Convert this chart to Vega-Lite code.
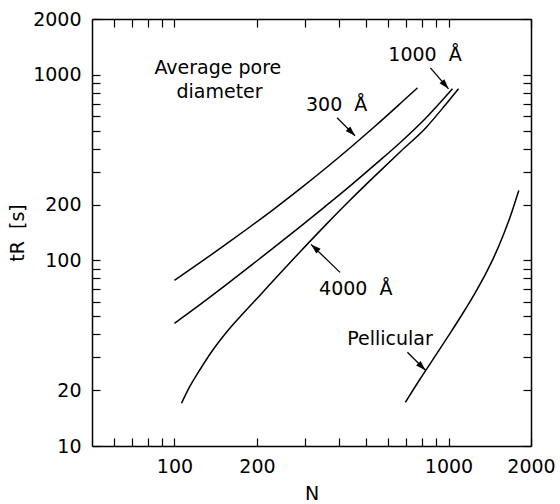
{
  "$schema": "https://vega.github.io/schema/vega-lite/v6.json",
  "width": 439,
  "height": 427,
  "autosize": {"type": "none"},
  "padding": {"left": 92, "top": 19, "right": 29, "bottom": 58},
  "background": "white",
  "config": {
    "view": {"stroke": null},
    "axis": {
      "labelFont": "DejaVu Sans",
      "labelFontSize": 19,
      "labelColor": "black",
      "titleFont": "DejaVu Sans",
      "titleFontSize": 19,
      "titleFontWeight": "normal",
      "titleColor": "black",
      "domainColor": "black",
      "domainWidth": 1.5,
      "tickColor": "black",
      "tickWidth": 1.2,
      "tickSize": -8,
      "ticks": true,
      "grid": false,
      "labelFlush": false,
      "labelOverlap": false,
      "labelBound": false
    },
    "text": {"font": "DejaVu Sans", "fontSize": 19, "color": "black"}
  },
  "datasets": {
    "curves": [
      {"series": "300", "N": 100, "t": 78.1},
      {"series": "300", "N": 123.5, "t": 96.9},
      {"series": "300", "N": 152.5, "t": 120.8},
      {"series": "300", "N": 188.3, "t": 151.4},
      {"series": "300", "N": 232.5, "t": 191},
      {"series": "300", "N": 287, "t": 243},
      {"series": "300", "N": 354.3, "t": 312},
      {"series": "300", "N": 437.7, "t": 405},
      {"series": "300", "N": 540.3, "t": 530},
      {"series": "300", "N": 666.9, "t": 701},
      {"series": "300", "N": 770, "t": 851},
      {"series": "1000", "N": 100, "t": 45.85},
      {"series": "1000", "N": 123.5, "t": 57.6},
      {"series": "1000", "N": 152.5, "t": 72.9},
      {"series": "1000", "N": 188.3, "t": 92.8},
      {"series": "1000", "N": 232.5, "t": 118.6},
      {"series": "1000", "N": 287, "t": 151.8},
      {"series": "1000", "N": 354.3, "t": 195.1},
      {"series": "1000", "N": 437.7, "t": 252.2},
      {"series": "1000", "N": 540.3, "t": 329.2},
      {"series": "1000", "N": 666.9, "t": 432.4},
      {"series": "1000", "N": 823.7, "t": 582},
      {"series": "1000", "N": 1034, "t": 841},
      {"series": "4000", "N": 106.1, "t": 17.0},
      {"series": "4000", "N": 113.5, "t": 20.8},
      {"series": "4000", "N": 123.5, "t": 25.6},
      {"series": "4000", "N": 137.8, "t": 32.8},
      {"series": "4000", "N": 156.4, "t": 41.8},
      {"series": "4000", "N": 177.5, "t": 51.6},
      {"series": "4000", "N": 204.8, "t": 64.8},
      {"series": "4000", "N": 242.5, "t": 85.1},
      {"series": "4000", "N": 287, "t": 111.1},
      {"series": "4000", "N": 354.3, "t": 154},
      {"series": "4000", "N": 437.7, "t": 211.5},
      {"series": "4000", "N": 540.3, "t": 286.4},
      {"series": "4000", "N": 666.9, "t": 385.5},
      {"series": "4000", "N": 823.7, "t": 515.8},
      {"series": "4000", "N": 975, "t": 690},
      {"series": "4000", "N": 1088, "t": 841},
      {"series": "Pellicular", "N": 696, "t": 17.2},
      {"series": "Pellicular", "N": 789.7, "t": 23.1},
      {"series": "Pellicular", "N": 896.2, "t": 30.7},
      {"series": "Pellicular", "N": 1017, "t": 40.8},
      {"series": "Pellicular", "N": 1125, "t": 51.6},
      {"series": "Pellicular", "N": 1245, "t": 66.1},
      {"series": "Pellicular", "N": 1366, "t": 84.6},
      {"series": "Pellicular", "N": 1474, "t": 106.4},
      {"series": "Pellicular", "N": 1577, "t": 134.6},
      {"series": "Pellicular", "N": 1673, "t": 169.3},
      {"series": "Pellicular", "N": 1745, "t": 203.8},
      {"series": "Pellicular", "N": 1805, "t": 237.9}
    ],
    "arrows": [
      {"arrow": "300", "N1": 392, "t1": 587, "N2": 456, "t2": 470},
      {"arrow": "1000", "N1": 859, "t1": 1090, "N2": 1000, "t2": 841},
      {"arrow": "4000", "N1": 402, "t1": 86.2, "N2": 315, "t2": 122},
      {"arrow": "Pellicular", "N1": 708, "t1": 32, "N2": 824, "t2": 25.6}
    ],
    "labels": [
      {"label": "Average pore", "N": 84.5, "t": 1012},
      {"label": "diameter", "N": 101.7, "t": 752},
      {"label": "300\u00a0\u00a0Å", "N": 302, "t": 640},
      {"label": "1000\u00a0\u00a0Å", "N": 603, "t": 1189},
      {"label": "4000\u00a0\u00a0Å", "N": 337, "t": 64.8},
      {"label": "Pellicular", "N": 427, "t": 34.9}
    ]
  },
  "resolve": {"axis": {"x": "independent", "y": "independent"}},
  "layer": [
    {
      "data": {"name": "curves"},
      "mark": {"type": "line", "color": "black", "strokeWidth": 1.5, "interpolate": "monotone"},
      "encoding": {
        "x": {
          "field": "N", "type": "quantitative",
          "scale": {"type": "log", "domain": [50, 2000], "nice": false},
          "axis": {
            "orient": "bottom",
            "title": "N",
            "titlePadding": 8,
            "values": [60, 70, 80, 90, 100, 200, 300, 400, 500, 600, 700, 800, 900, 1000, 2000],
            "labelExpr": "(datum.value==100||datum.value==200||datum.value==1000||datum.value==2000) ? datum.value : ''",
            "labelPadding": 19,
            "encode": {"ticks": {"update": {"y2": {"signal": "(datum.value==100||datum.value==200||datum.value==1000||datum.value==2000) ? -8 : -4"}}}}
          }
        },
        "y": {
          "field": "t", "type": "quantitative",
          "scale": {"type": "log", "domain": [10, 2000], "nice": false},
          "axis": {
            "orient": "left",
            "title": "tR\u00a0\u00a0[s]",
            "titlePadding": 5,
            "values": [10, 20, 30, 40, 50, 60, 70, 80, 90, 100, 200, 300, 400, 500, 600, 700, 800, 900, 1000, 2000],
            "labelExpr": "(datum.value==10||datum.value==20||datum.value==100||datum.value==200||datum.value==1000||datum.value==2000) ? datum.value : ''",
            "labelPadding": 19,
            "encode": {"ticks": {"update": {"x2": {"signal": "(datum.value==10||datum.value==20||datum.value==100||datum.value==200||datum.value==1000||datum.value==2000) ? 8 : 4"}}}}
          }
        },
        "detail": {"field": "series", "type": "nominal"}
      }
    },
    {
      "data": {"name": "arrows"},
      "mark": {"type": "rule", "color": "black", "strokeWidth": 1.3},
      "encoding": {
        "x": {
          "field": "N1", "type": "quantitative",
          "scale": {"type": "log", "domain": [50, 2000], "nice": false},
          "axis": {
            "orient": "top", "title": null, "labels": false,
            "values": [60, 70, 80, 90, 100, 200, 300, 400, 500, 600, 700, 800, 900, 1000, 2000],
            "encode": {"ticks": {"update": {"y2": {"signal": "(datum.value==100||datum.value==200||datum.value==1000||datum.value==2000) ? 8 : 4"}}}}
          }
        },
        "y": {
          "field": "t1", "type": "quantitative",
          "scale": {"type": "log", "domain": [10, 2000], "nice": false},
          "axis": {
            "orient": "right", "title": null, "labels": false,
            "values": [10, 20, 30, 40, 50, 60, 70, 80, 90, 100, 200, 300, 400, 500, 600, 700, 800, 900, 1000, 2000],
            "encode": {"ticks": {"update": {"x2": {"signal": "(datum.value==10||datum.value==20||datum.value==100||datum.value==200||datum.value==1000||datum.value==2000) ? -8 : -4"}}}}
          }
        },
        "x2": {"field": "N2"},
        "y2": {"field": "t2"}
      }
    },
    {
      "data": {"name": "arrows"},
      "transform": [{"filter": "datum.arrow=='300' || datum.arrow=='Pellicular'"}],
      "mark": {"type": "point", "shape": "M0,0L-0.32,1L0.32,1Z", "filled": true, "color": "black", "size": 400, "angle": 135, "opacity": 1},
      "encoding": {
        "x": {"field": "N2", "type": "quantitative", "scale": {"type": "log", "domain": [50, 2000], "nice": false}, "axis": null},
        "y": {"field": "t2", "type": "quantitative", "scale": {"type": "log", "domain": [10, 2000], "nice": false}, "axis": null}
      }
    },
    {
      "data": {"name": "arrows"},
      "transform": [{"filter": "datum.arrow=='1000'"}],
      "mark": {"type": "point", "shape": "M0,0L-0.32,1L0.32,1Z", "filled": true, "color": "black", "size": 400, "angle": 139, "opacity": 1},
      "encoding": {
        "x": {"field": "N2", "type": "quantitative", "scale": {"type": "log", "domain": [50, 2000], "nice": false}, "axis": null},
        "y": {"field": "t2", "type": "quantitative", "scale": {"type": "log", "domain": [10, 2000], "nice": false}, "axis": null}
      }
    },
    {
      "data": {"name": "arrows"},
      "transform": [{"filter": "datum.arrow=='4000'"}],
      "mark": {"type": "point", "shape": "M0,0L-0.32,1L0.32,1Z", "filled": true, "color": "black", "size": 400, "angle": 312, "opacity": 1},
      "encoding": {
        "x": {"field": "N2", "type": "quantitative", "scale": {"type": "log", "domain": [50, 2000], "nice": false}, "axis": null},
        "y": {"field": "t2", "type": "quantitative", "scale": {"type": "log", "domain": [10, 2000], "nice": false}, "axis": null}
      }
    },
    {
      "data": {"name": "labels"},
      "mark": {"type": "text", "align": "left", "baseline": "alphabetic"},
      "encoding": {
        "x": {"field": "N", "type": "quantitative", "scale": {"type": "log", "domain": [50, 2000], "nice": false}, "axis": null},
        "y": {"field": "t", "type": "quantitative", "scale": {"type": "log", "domain": [10, 2000], "nice": false}, "axis": null},
        "text": {"field": "label"}
      }
    }
  ]
}
